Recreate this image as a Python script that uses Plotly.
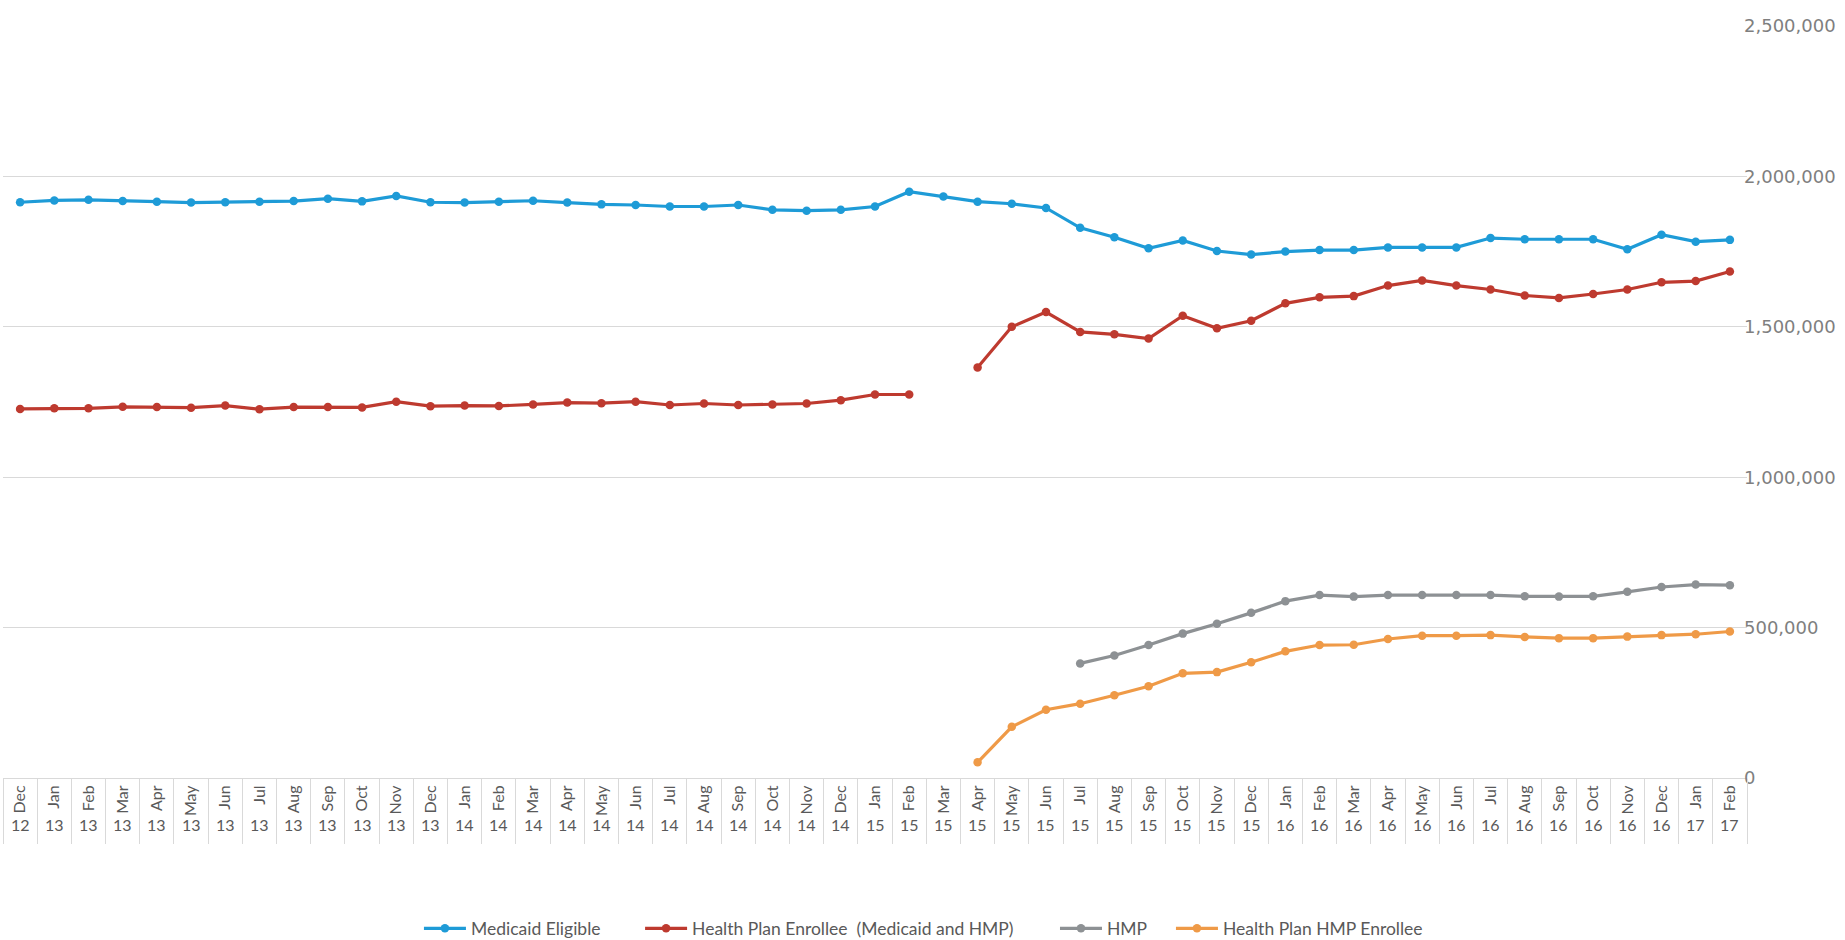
import plotly.graph_objects as go

# Month / year labels for each reporting period (Dec 2012 - Feb 2017)
months = ["Dec", "Jan", "Feb", "Mar", "Apr", "May", "Jun", "Jul", "Aug", "Sep", "Oct", "Nov",
          "Dec", "Jan", "Feb", "Mar", "Apr", "May", "Jun", "Jul", "Aug", "Sep", "Oct", "Nov",
          "Dec", "Jan", "Feb", "Mar", "Apr", "May", "Jun", "Jul", "Aug", "Sep", "Oct", "Nov",
          "Dec", "Jan", "Feb", "Mar", "Apr", "May", "Jun", "Jul", "Aug", "Sep", "Oct", "Nov",
          "Dec", "Jan", "Feb"]
years = ["12"] + ["13"] * 12 + ["14"] * 12 + ["15"] * 12 + ["16"] * 12 + ["17"] * 2

medicaid_eligible = [
    1914000, 1920000, 1922000, 1918000, 1916000, 1913000, 1914000, 1916000, 1918000, 1926000,
    1917000, 1935000, 1914000, 1913000, 1916000, 1919000, 1913000, 1907000, 1905000, 1900000,
    1900000, 1905000, 1889000, 1886000, 1889000, 1900000, 1949000, 1933000, 1916000, 1909000,
    1895000, 1829000, 1798000, 1761000, 1787000, 1752000, 1740000, 1750000, 1755000, 1755000,
    1764000, 1764000, 1764000, 1795000, 1791000, 1791000, 1791000, 1758000, 1806000, 1783000,
    1789000]

health_plan_enrollee = [
    1227000, 1229000, 1229000, 1234000, 1233000, 1231000, 1238000, 1226000, 1233000, 1233000,
    1232000, 1251000, 1236000, 1238000, 1237000, 1242000, 1248000, 1246000, 1251000, 1240000,
    1245000, 1240000, 1242000, 1245000, 1256000, 1275000, 1275000, None, 1365000, 1500000,
    1549000, 1483000, 1475000, 1461000, 1537000, 1495000, 1520000, 1578000, 1598000, 1602000,
    1637000, 1654000, 1637000, 1624000, 1604000, 1596000, 1609000, 1624000, 1648000, 1652000,
    1684000]

hmp = [None] * 31 + [
    381000, 407000, 442000, 480000, 513000, 549000, 588000, 608000, 603000, 608000,
    608000, 608000, 608000, 604000, 603000, 604000, 619000, 635000, 643000, 641000]

health_plan_hmp_enrollee = [None] * 28 + [
    52000, 170000, 227000, 247000, 275000, 305000, 348000, 352000, 385000, 421000,
    442000, 443000, 462000, 473000, 473000, 475000, 469000, 465000, 465000, 470000,
    475000, 478000, 487000]

y_ticks = [0, 500000, 1000000, 1500000, 2000000, 2500000]

# Unique category keys so repeated month names stay distinct on the axis
periods = [f"{m} {y}" for m, y in zip(months, years)]

series = [
    ("Medicaid Eligible", medicaid_eligible, "#1E9BD7", "legend"),
    ("Health Plan Enrollee \u00a0(Medicaid and HMP)", health_plan_enrollee, "#BE3A2F", "legend2"),
    ("HMP", hmp, "#8D9194", "legend3"),
    ("Health Plan HMP Enrollee", health_plan_hmp_enrollee, "#EF9A47", "legend4"),
]

TEXT = "#595959"
GRID = "#D9D9D9"

fig = go.Figure()
for name, values, color, leg in series:
    fig.add_trace(go.Scatter(
        x=periods, y=values, name=name, mode="lines+markers",
        line=dict(color=color, width=3.2),
        marker=dict(color=color, size=8.5),
        connectgaps=False, legend=leg,
    ))

# invisible carrier for the category separator axis
fig.add_trace(go.Scatter(x=periods, y=[None] * len(periods), xaxis="x2",
                         showlegend=False, hoverinfo="skip"))

# year row beneath the month labels
for p, yr in zip(periods, years):
    fig.add_annotation(x=p, y=0, xref="x", yref="paper", text=yr, showarrow=False,
                       yanchor="middle", yshift=-46,
                       font=dict(family="Lato", size=16, color=TEXT))

legend_x = [0.2385, 0.3653, 0.6032, 0.6697]
legend_common = dict(orientation="h", yanchor="middle", y=-0.2, xanchor="left",
                     bgcolor="rgba(0,0,0,0)", borderwidth=0, itemwidth=42,
                     font=dict(family="Lato", size=17.5, color=TEXT))

fig.update_layout(
    width=1845, height=940,
    margin=dict(l=3, r=98, t=26, b=162, autoexpand=False),
    paper_bgcolor="white", plot_bgcolor="white",
    showlegend=True,
    legend=dict(x=legend_x[0], **legend_common),
    legend2=dict(x=legend_x[1], **legend_common),
    legend3=dict(x=legend_x[2], **legend_common),
    legend4=dict(x=legend_x[3], **legend_common),
    xaxis=dict(
        type="category", categoryorder="array", categoryarray=periods,
        range=[-0.5, len(periods) - 0.5], automargin=False,
        tickmode="array", tickvals=periods, ticktext=months, tickangle=-90,
        ticks="", showgrid=False, zeroline=False,
        showline=True, linecolor=GRID, linewidth=1,
        tickfont=dict(family="Lato", size=16, color=TEXT),
    ),
    xaxis2=dict(
        type="category", categoryorder="array", categoryarray=periods,
        overlaying="x", matches="x", side="bottom", anchor="y", automargin=False,
        tickmode="array", tickvals=periods, tickson="boundaries",
        ticks="outside", ticklen=65, tickwidth=1, tickcolor=GRID,
        showticklabels=False, showgrid=False, zeroline=False, showline=False,
    ),
    yaxis=dict(
        side="right", range=[0, 2500000], tickvals=y_ticks, tickformat=",",
        showgrid=True, gridcolor=GRID, gridwidth=1, zeroline=False,
        showline=False, ticks="", automargin=False, ticklabelstandoff=-4,
        tickfont=dict(family="DejaVu Sans", size=18, color="#7F7F7F"),
    ),
)

fig.write_html("out.html")
